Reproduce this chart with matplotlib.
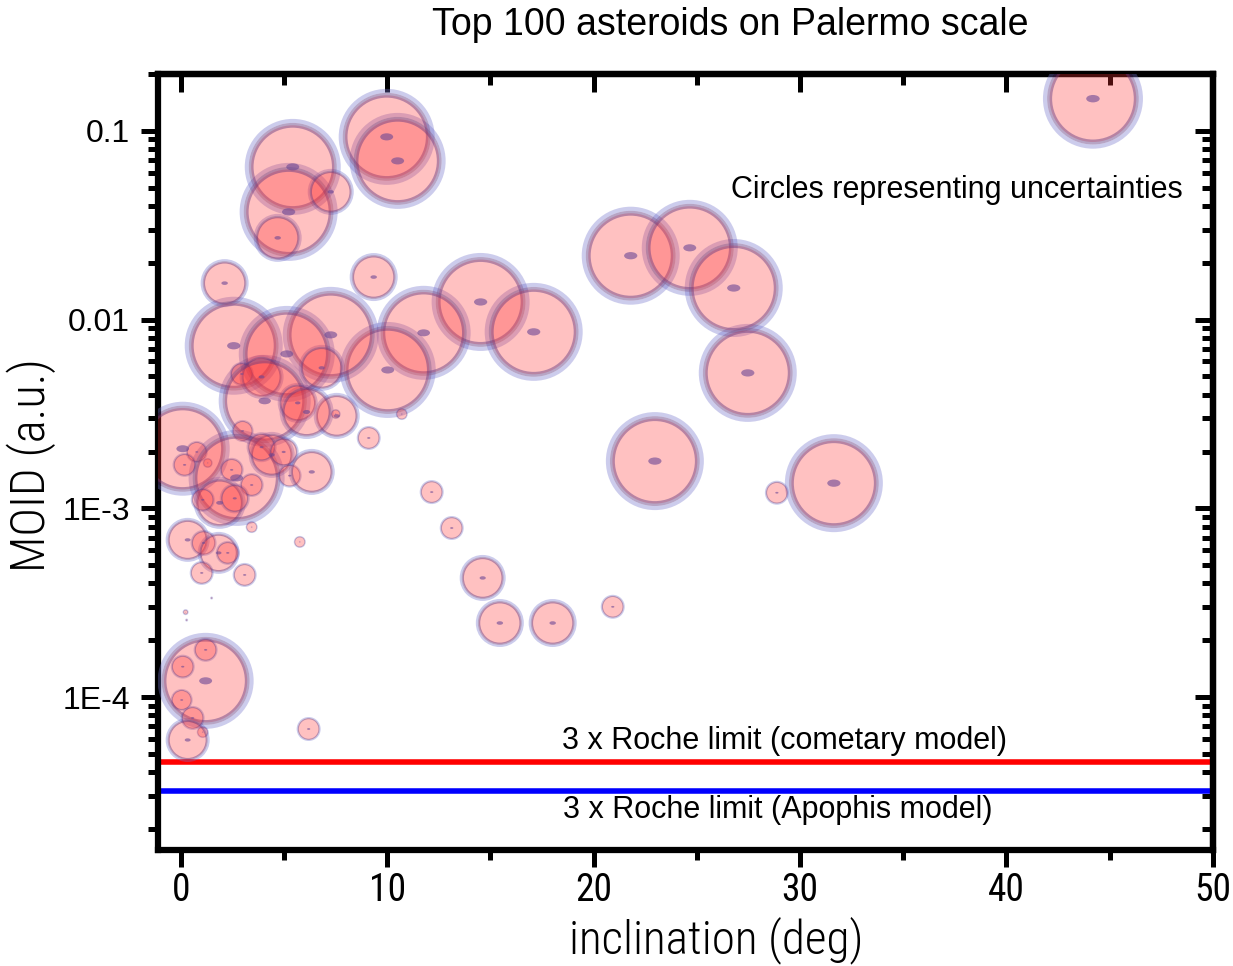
import numpy as np
import matplotlib
matplotlib.use("Agg")
import matplotlib.pyplot as plt
from matplotlib.path import Path
from matplotlib.markers import MarkerStyle
from matplotlib.transforms import Affine2D
from matplotlib.ticker import FixedLocator, FixedFormatter, LogLocator, NullFormatter, MultipleLocator

# inclination (deg), MOID (a.u.) and uncertainty (circle radius)
incl = [5.43, 5.23, 4.70, 7.27, 9.98, 10.51, 2.13, 9.35, 21.80, 24.66,
        26.79, 27.47, 22.97, 28.88, 31.64, 44.19, 14.53, 17.10, 11.77, 10.03,
        7.27, 10.71, 9.11, 7.56, 7.51, 2.57, 5.14, 6.83, 2.96, 3.92,
        4.07, 5.67, 6.10, 3.00, 0.10, 0.78, 0.19, 1.31, 2.71, 2.47,
        4.41, 3.92, 4.99, 5.28, 3.44, 6.35, 1.89, 1.07, 2.62, 3.44,
        0.34, 1.11, 1.84, 2.28, 1.02, 3.10, 5.77, 12.16, 13.13, 14.63,
        15.46, 18.02, 20.93, 0.24, 0.29, 1.21, 1.21, 0.10, 0.05, 0.58,
        1.07, 0.34, 6.20, 1.50]
moid = [0.0644, 0.0372, 0.0271, 0.0475, 0.0929, 0.0693, 0.0156, 0.0168, 0.0218, 0.0240,
        0.0147, 0.00522, 0.00178, 0.00121, 0.00136, 0.148, 0.0124, 0.00861, 0.00851, 0.00541,
        0.00830, 0.00316, 0.00236, 0.00309, 0.00316, 0.00727, 0.00658, 0.00555, 0.00515, 0.00497,
        0.00371, 0.00362, 0.00324, 0.00257, 0.00207, 0.00199, 0.00170, 0.00174, 0.00145, 0.00160,
        0.00192, 0.00211, 0.00199, 0.00149, 0.00133, 0.00156, 0.00107, 0.00111, 0.00113, 0.000796,
        0.000681, 0.000656, 0.000581, 0.000581, 0.000455, 0.000444, 0.000664, 0.00122, 0.000787, 0.000428,
        0.000247, 0.000247, 0.000301, 0.000282, 0.000256, 0.000122, 0.000178, 0.000145, 9.66e-5, 7.76e-5,
        6.53e-5, 5.93e-5, 6.78e-5, 0.000335]
unc = [48, 49, 24, 23, 48, 48, 24, 24, 49, 48,
       49, 49, 49, 12, 49, 50, 49, 49, 47, 48,
       48, 6, 12, 23, 5, 49, 48, 23, 12, 22,
       46, 20, 27, 11, 47, 11, 12, 5, 48, 12,
       23, 15, 15, 12, 12, 23, 26, 12, 15, 6,
       22, 13, 21, 12, 12, 12, 6, 12, 12, 23,
       24, 24, 12, 3, 1.5, 48, 12, 12, 11, 12,
       6, 22, 12, 1.5]

roche_comet = 4.53e-5
roche_apophis = 3.18e-5

ytick_vals = [1e-4, 1e-3, 1e-2, 1e-1]
ytick_text = ["1E-4", "1E-3", "0.01", "0.1"]

narrow = ["Liberation Sans Narrow", "Roboto Condensed", "Archivo Narrow",
          "PT Sans Narrow", "Liberation Sans", "DejaVu Sans"]
plt.rcParams["font.family"] = ["Liberation Sans", "DejaVu Sans"]

fig = plt.figure(figsize=(12.33, 9.66), dpi=100)
ax = fig.add_axes([0.1281, 0.1201, 0.8556, 0.8033])

x = np.array(incl)
y = np.array(moid)
r = np.array(unc, dtype=float)       # radius in pixels
k = 0.72                              # px -> pt at 100 dpi

halo = np.maximum(r / 12, 0.6)
ring = np.maximum(r / 10, 0.8)

# outer light-blue halo
d_halo = 2 * (r - halo / 2) * k
ax.scatter(x, y, s=d_halo ** 2, facecolors="none",
           edgecolors=(0.45, 0.45, 0.8, 0.36), linewidths=halo * k, zorder=3)
# pink disc with purple ring
d_fill = 2 * (r - halo - ring / 2) * k
ax.scatter(x, y, s=d_fill ** 2, facecolors=(1.0, 0.2, 0.2, 0.3),
           edgecolors=(0.38, 0.22, 0.5, 0.45), linewidths=ring * k, zorder=4)
# small elliptical dot in the middle
ell = MarkerStyle(Path.unit_circle().transformed(Affine2D().scale(1.0, 0.55)))
ax.scatter(x, y, s=(0.27 * r * k) ** 2, marker=ell, color=(0.42, 0.28, 0.58, 0.6),
           linewidths=0, zorder=5)

# roche limit lines
ax.axhline(roche_comet, color="#ff0000", lw=4, zorder=2)
ax.axhline(roche_apophis, color="#0000ff", lw=4, zorder=2)

ax.text(29.26, 5.85e-5, "3 x Roche limit (cometary model)", ha="center", va="center", fontsize=22)
ax.text(28.9, 2.52e-5, "3 x Roche limit (Apophis model)", ha="center", va="center", fontsize=22)
ax.text(48.55, 0.0487, "Circles representing uncertainties", ha="right", va="center", fontsize=22)

ax.set_yscale("log")
ax.set_xlim(-1.1, 50)
ax.set_ylim(1.55e-5, 0.2)

ax.xaxis.set_major_locator(MultipleLocator(10))
ax.xaxis.set_minor_locator(MultipleLocator(5))
ax.yaxis.set_major_locator(FixedLocator(ytick_vals))
ax.yaxis.set_major_formatter(FixedFormatter(ytick_text))
ax.yaxis.set_minor_locator(LogLocator(base=10, subs=np.arange(2, 10)))
ax.yaxis.set_minor_formatter(NullFormatter())

for sp in ax.spines.values():
    sp.set_linewidth(4.5)

ax.tick_params(which="major", direction="out", length=12, width=3.6, pad=8)
ax.tick_params(which="minor", direction="out", length=7, width=3.6)
ax.tick_params(axis="x", pad=4)
ax.tick_params(axis="y", labelsize=23)
for lab in ax.get_xticklabels():
    lab.set_family(narrow)
    lab.set_fontsize(27)

# mirrored ticks on top and right pointing inwards
top = ax.secondary_xaxis("top")
top.xaxis.set_major_locator(MultipleLocator(10))
top.xaxis.set_minor_locator(MultipleLocator(5))
top.tick_params(which="major", direction="in", length=13, width=3.6, labeltop=False)
top.tick_params(which="minor", direction="in", length=8, width=3.6)
top.spines["top"].set_linewidth(4.5)

right = ax.secondary_yaxis("right")
right.yaxis.set_major_locator(FixedLocator(ytick_vals))
right.yaxis.set_minor_locator(LogLocator(base=10, subs=np.arange(2, 10)))
right.yaxis.set_minor_formatter(NullFormatter())
right.tick_params(which="major", direction="in", length=13, width=3.6, labelright=False)
right.tick_params(which="minor", direction="in", length=8, width=3.6)
right.spines["right"].set_linewidth(4.5)

fig.text(0.592, 0.974, "Top 100 asteroids on Palermo scale", ha="center", va="center", fontsize=27)
fig.text(0.581, 0.027, "inclination (deg)", ha="center", va="center", fontsize=34,
         family=narrow, weight="light")
fig.text(0.025, 0.519, "MOID (a.u.)", ha="center", va="center", rotation=90, fontsize=35,
         family=narrow, weight="light")

fig.savefig("out.png", dpi=100)
